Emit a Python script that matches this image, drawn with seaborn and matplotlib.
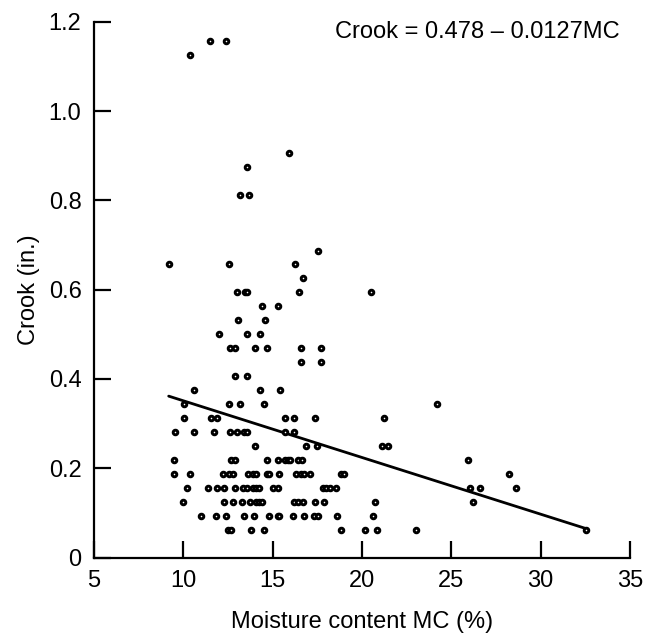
import matplotlib
matplotlib.use("Agg")
import matplotlib.pyplot as plt
import seaborn as sns
import pandas as pd
import numpy as np

# Crook levels (in.) and the moisture contents (%) of the boards at each level
crook_levels = [1.15625, 1.125, 0.90625, 0.875, 0.8125, 0.6875, 0.65625, 0.625,
                0.59375, 0.5625, 0.53125, 0.5, 0.46875, 0.4375, 0.40625, 0.375,
                0.34375, 0.3125, 0.28125, 0.25, 0.21875, 0.1875, 0.15625, 0.125,
                0.09375, 0.0625]
mc_by_level = [
    [11.49, 12.39],
    [10.39],
    [15.89],
    [13.58],
    [13.19, 13.69],
    [17.52],
    [9.18, 12.57, 16.27],
    [16.70],
    [12.98, 13.45, 13.56, 16.49, 20.50],
    [14.40, 15.28],
    [13.08, 14.59],
    [11.98, 13.58, 14.29],
    [12.63, 12.87, 13.99, 14.68, 16.58, 17.68],
    [16.58, 17.68],
    [12.89, 13.58],
    [10.58, 14.29, 15.41],
    [10.06, 12.57, 13.17, 14.49, 24.20],
    [10.06, 11.55, 11.87, 15.71, 16.19, 17.35, 21.21],
    [9.55, 10.58, 11.70, 12.61, 13.00, 13.41, 13.56, 15.71, 16.19],
    [14.01, 16.86, 17.46, 21.10, 21.43],
    [9.48, 12.67, 12.91, 14.68, 15.28, 15.69, 15.84, 15.97, 16.40, 16.64, 25.93],
    [9.48, 10.39, 12.20, 12.57, 12.80, 13.64, 13.88, 14.07, 14.68, 14.81, 15.37,
     16.30, 16.58, 16.77, 17.11, 18.82, 18.97, 28.22],
    [10.20, 11.40, 11.87, 12.26, 12.87, 13.32, 13.54, 13.88, 14.07, 14.25, 15.00,
     15.28, 17.80, 17.98, 18.23, 18.54, 26.02, 26.62, 28.63],
    [9.98, 12.29, 12.76, 13.26, 13.73, 14.07, 14.25, 14.38, 16.20, 16.44, 16.68,
     17.39, 17.89, 20.71, 26.21],
    [10.99, 11.83, 12.39, 13.41, 13.97, 14.81, 15.28, 15.37, 16.12, 16.77, 17.33,
     17.52, 18.60, 20.59],
    [12.48, 12.67, 13.79, 14.50, 18.82, 20.18, 20.82, 23.02, 32.53],
]

# Regression line coefficients (from the chart's equation)
intercept = 0.478
slope = -0.0127

x_ticks = [5, 10, 15, 20, 25, 30, 35]
x_tick_labels = ["5", "10", "15", "20", "25", "30", "35"]
y_ticks = [0, 0.2, 0.4, 0.6, 0.8, 1.0, 1.2]
y_tick_labels = ["0", "0.2", "0.4", "0.6", "0.8", "1.0", "1.2"]

sns.set_style("ticks")
plt.rcParams["font.family"] = ["Liberation Sans", "DejaVu Sans"]
plt.rcParams["text.color"] = "black"
plt.rcParams["axes.labelcolor"] = "black"
plt.rcParams["axes.edgecolor"] = "black"

rows = [(mc, c) for c, mcs in zip(crook_levels, mc_by_level) for mc in mcs]
df = pd.DataFrame(rows, columns=["MC", "Crook"])

W, H = 661, 635
fig = plt.figure(figsize=(W / 100, H / 100), dpi=100)
ax = fig.add_axes([94 / W, 77.5 / H, (630 - 94) / W, (613.3 - 77.5) / H])

line_x = np.array([df["MC"].min(), df["MC"].max()])
line_df = pd.DataFrame({"MC": line_x, "Crook": intercept + slope * line_x})
sns.lineplot(data=line_df, x="MC", y="Crook", ax=ax, color="black",
             linewidth=2.0, zorder=2)
sns.scatterplot(data=df, x="MC", y="Crook", ax=ax, s=11, color="white",
                edgecolor="black", linewidth=2.1, zorder=3)

ax.set_xlim(5, 35)
ax.set_ylim(0, 1.2)
ax.set_xticks(x_ticks)
ax.set_xticklabels(x_tick_labels)
ax.set_yticks(y_ticks)
ax.set_yticklabels(y_tick_labels)
sns.despine(ax=ax)
for sp in ["left", "bottom"]:
    ax.spines[sp].set_linewidth(1.6)
    ax.spines[sp].set_color("black")
ax.tick_params(direction="in", length=12, width=1.6, labelsize=17, pad=9,
               color="black", labelcolor="black")
ax.set_xlabel("Moisture content MC (%)", fontsize=17, labelpad=14, color="black")
ax.set_ylabel("Crook (in.)", fontsize=17, labelpad=6, color="black")
ax.text(34.4, 1.177, "Crook = 0.478 \u2013 0.0127MC", ha="right", va="center",
        fontsize=17, color="black")

fig.savefig("out.png", dpi=100)
